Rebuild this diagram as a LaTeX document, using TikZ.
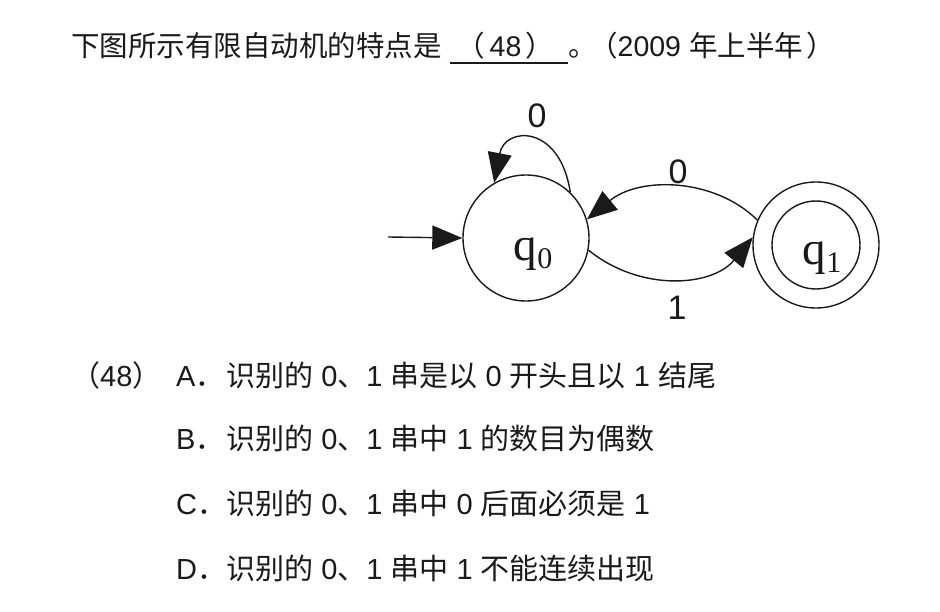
\documentclass[tikz,border=0pt]{standalone}
\usepackage{fontspec}
\setmainfont{Liberation Sans}
\newfontfamily\zhfont{Noto Sans CJK SC}
\newfontfamily\serfont{Liberation Serif}
\newcommand\zh[1]{{\zhfont #1}}
\usetikzlibrary{arrows.meta}
\definecolor{ink}{HTML}{1A1A1A}
\tikzset{
  state/.style={circle,draw=ink,line width=1.4pt,minimum size=126pt,inner sep=0pt},
  edge/.style={draw=ink,line width=1.4pt,-{Triangle[length=30pt,width=24pt]}},
  lbl/.style={text=ink,font=\fontsize{34}{34}\selectfont,inner sep=0pt},
  qlbl/.style={text=ink,font=\serfont\fontsize{47}{47}\selectfont,inner sep=0pt},
  ttl/.style={text=ink,font=\fontsize{28.5}{30}\selectfont,anchor=base west,inner sep=0pt},
  opt/.style={text=ink,font=\fontsize{29}{30}\selectfont,anchor=base west,inner sep=0pt}
}
\begin{document}
\begin{tikzpicture}[x=1pt,y=-1pt]
\useasboundingbox[fill=white] (0,0) rectangle (940,612);
% title
\node[ttl] (t1) at (71,57) {\zh{下图所示有限自动机的特点是}};
\node[ttl] (t2) at (456,57) {\zh{（}\hspace{5pt}48\hspace{4pt}\zh{）}};
\draw[ink,line width=1.3pt] (450,63) -- (568,63);
\node[ttl] (t3) at (568,57) {\zh{。}};
\node[ttl] (t4) at (589,57) {\zh{（}2009 \zh{年上半年}};
\node[ttl] (t5) at (806,57) {\zh{）}};
% states
\node[state] (q0) at (526,238) {};
\node[qlbl] (q0l) at (533,254) {q\raisebox{-8pt}{\fontsize{30}{30}\selectfont 0}};
\node[state] (q1) at (816,245) {};
\draw[ink,line width=1.4pt] (q1.center) circle (44pt);
\node[qlbl] (q1l) at (822,258) {q\raisebox{-8pt}{\fontsize{30}{30}\selectfont 1}};
\coordinate (s) at (388,237);
\draw[edge] (s) -- (q0.west);
\draw[edge] (q0.46) .. controls (560,124) and (505,126) .. (q0.120);
\draw[edge] (q1.157) .. controls (715,178) and (640,176) .. (q0.17);
\draw[edge] (q0.-11) .. controls (640,292) and (712,287) .. (q1.173);
\node[lbl] (l0a) at (537,116) {0};
\node[lbl] (l0b) at (678,172) {0};
\node[lbl] (l1) at (677,308) {1};
% options
\node[opt] (o0) at (71,386) {\zh{（}48\zh{）}};
\node[opt] (oa) at (176,386) {A\zh{．}};
\node[opt] (oa2) at (226,386) {\zh{识别的} 0\zh{、}1 \zh{串是以} 0 \zh{开头且以} 1 \zh{结尾}};
\node[opt] (ob) at (176,449) {B\zh{．}};
\node[opt] (ob2) at (226,449) {\zh{识别的} 0\zh{、}1 \zh{串中} 1 \zh{的数目为偶数}};
\node[opt] (oc) at (176,514) {C\zh{．}};
\node[opt] (oc2) at (226,514) {\zh{识别的} 0\zh{、}1 \zh{串中} 0 \zh{后面必须是} 1};
\node[opt] (od) at (176,579) {D\zh{．}};
\node[opt] (od2) at (226,579) {\zh{识别的} 0\zh{、}1 \zh{串中} 1 \zh{不能连续出现}};
\end{tikzpicture}
\end{document}
